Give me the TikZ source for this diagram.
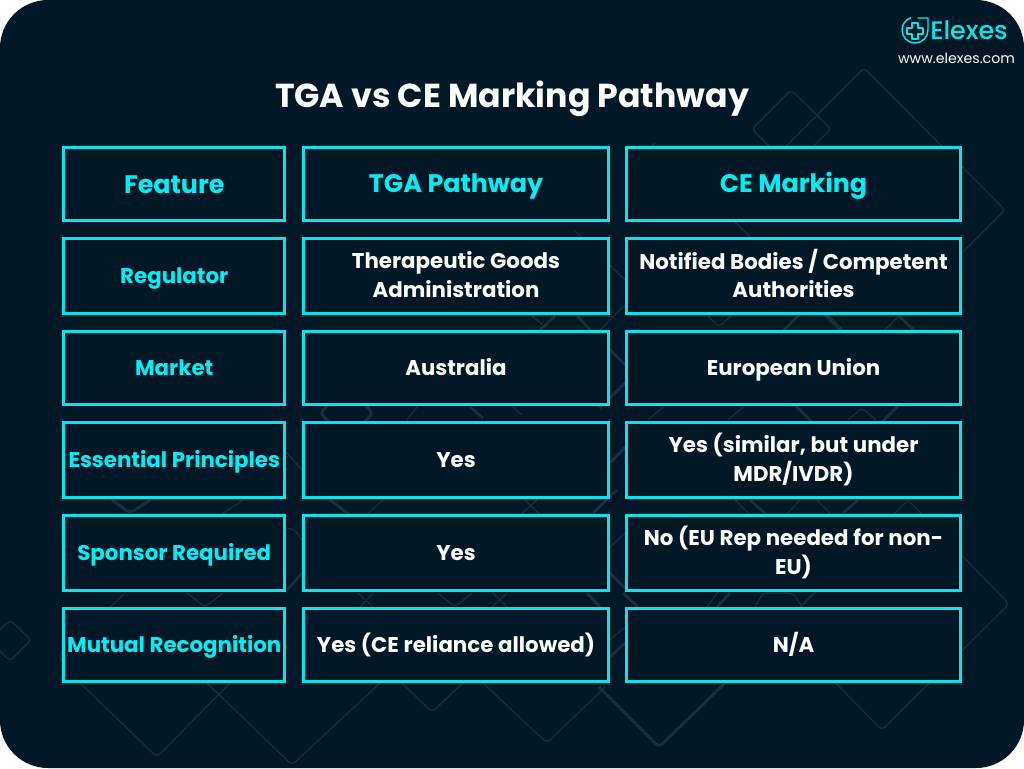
\documentclass[tikz,border=0pt]{standalone}
\usepackage{fontspec}
\setmainfont{Poppins}
\newfontfamily\logofont{Poppins Medium}
\newcommand{\Lh}{\vphantom{(Ag)}\spaceskip=0.22em\relax}
\newcommand{\Dn}[1]{\raisebox{-0.75pt}{#1}}
\definecolor{bgdark}{HTML}{021826}
\definecolor{cyanline}{HTML}{08E4EA}
\definecolor{cyantext}{HTML}{00EEF4}
\definecolor{faint}{HTML}{1A303E}
\tikzset{
  cell/.style={draw=cyanline,line width=2.25pt,fill=bgdark,inner sep=0pt,outer sep=0pt,align=center,text width=#1-4pt},
  headcell/.style={cell=#1,text=cyantext,font=\bfseries\fontsize{19}{24}\selectfont},
  keycell/.style={cell=#1,text=cyantext,font=\bfseries\fontsize{16}{21.7}\selectfont},
  valcell/.style={cell=#1,text=white,font=\bfseries\fontsize{16}{21.7}\selectfont},
  thinbg/.style={draw=faint,line width=0.9pt,line join=round},
  thickbg/.style={draw=faint,line width=2pt,line join=round},
  logoline/.style={draw=cyanline,line width=1.1pt,line cap=round,line join=round}
}
\begin{document}
\begin{tikzpicture}[x=0.75pt,y=-0.75pt]
\useasboundingbox (0,0) rectangle (1024,768);
\fill[white] (0,0) rectangle (1024,768);
\fill[bgdark,rounded corners=36pt] (0,0) rectangle (1024,768);
% background ornament
\begin{scope}[thinbg,rounded corners=3pt]
\draw (864,68) -- (1005,210) -- (864,351) -- (723,210) -- cycle;
\draw (791,90) -- (831,129) -- (791,168) -- (752,129) -- cycle;
\draw (908,500) -- (1009,604) -- (882,730) -- (780,627) -- cycle;
\draw (10,620) -- (31,640) -- (10,661) -- (-11,640) -- cycle;
\draw (80,683) -- (157,757) -- (230,683);
\draw (62,650) -- (60,660) -- (80,683);
\draw (207,683) -- (292,765) -- (380,683);
\draw (402,683) -- (432,712) -- (463,683);
\draw (483,683) -- (547,743) -- (605,687);
\draw (574,230) -- (625,280);
\draw (655,143) -- (640,155);
\draw (532,316) -- (543,325);
\draw (600,330) -- (623,307);
\draw (708,316) -- (719,327) -- (731,316);
\draw (407,420) -- (417,407);
\draw (513,407) -- (522,415);
\draw (648,420) -- (663,407);
\draw (728,420) -- (743,407);
\draw (848,420) -- (862,408) -- (876,420);
\draw (522,513) -- (537,500);
\draw (525,500) -- (540,515);
\draw (735,500) -- (748,513);
\draw (788,513) -- (800,500);
\draw (817,500) -- (830,513);
\draw (358,593) -- (373,607);
\draw (360,607) -- (373,593);
\draw (438,593) -- (455,607) -- (472,593);
\draw (492,607) -- (507,593);
\draw (493,593) -- (507,607);
\draw (707,607) -- (718,592);
\draw (110,607) -- (125,593);
\draw (187,593) -- (205,607) -- (223,593);
\draw (287,453) -- (302,470);
\draw (287,528) -- (295,530) -- (302,540);
\draw (610,547) -- (625,533);
\draw (610,640) -- (625,627);
\draw (368,513) -- (383,500);
\draw (223,513) -- (243,500);
\draw (755,607) -- (763,593) -- (793,593) -- (802,607);
\end{scope}
\begin{scope}[thickbg,rounded corners=3pt]
\draw (812,302) -- (907,397) -- (847,457) -- (752,362) -- cycle;
\draw (899,316) -- (915,331);
\draw (320,413) -- (347,386) -- (373,413) -- (347,440) -- cycle;
\draw (540,330) -- (555,316);
\draw (577,316) -- (634,374) -- (600,408);
\draw (470,407) -- (483,418);
\draw (330,500) -- (350,515);
\draw (593,513) -- (617,490);
\draw (750,500) -- (767,515);
\draw (843,513) -- (858,500);
\draw (112,500) -- (130,513) -- (150,500);
\draw (587,593) -- (600,607);
\draw (623,593) -- (638,607);
\draw (717,607) -- (730,593);
\draw (287,590) -- (302,573);
\draw (610,463) -- (625,447);
\draw (610,573) -- (625,588);
\draw (610,657) -- (625,643);
\draw (599,687) -- (659,747) -- (725,683);
\end{scope}
% title
\node[text=white,font=\bfseries\fontsize{24.9}{30}\selectfont,inner sep=0pt] (title) at (512,96.5) {\vphantom{(Ag)}TGA vs CE Marking Pathway};
% logo
\node[text=cyanline,font=\logofont\fontsize{19}{22}\selectfont,anchor=west,inner sep=0pt] (logotext) at (930,30) {Elexes};
\node[text=white,font=\fontsize{10.6}{13}\selectfont,inner sep=0pt] (url) at (956.5,58) {www.elexes.com};
\draw[logoline] (918,18) -- (928,18) -- (928,30) arc[start angle=0,end angle=250,radius=13];
\draw[logoline] (912,23) -- (918,23) -- (918,28) -- (923,28) -- (923,34) -- (918,34) -- (918,39) -- (912,39) -- (912,34) -- (907,34) -- (907,28) -- (912,28) -- cycle;
% table
\node[headcell=166.1pt,minimum width=166.1pt,minimum height=54.4pt] (h1) at (174.25,184.25) {\Lh\Dn{Feature}};
\node[headcell=228.75pt,minimum width=228.75pt,minimum height=54.4pt] (h2) at (456,184.25) {\Lh\Dn{TGA Pathway}};
\node[headcell=250.5pt,minimum width=250.5pt,minimum height=54.4pt] (h3) at (793.5,184.25) {\Lh\Dn{CE Marking}};
\node[keycell=166.1pt,minimum width=166.1pt,minimum height=56.25pt] (a1) at (174.25,276.3) {\Lh Regulator};
\node[valcell=228.75pt,minimum width=228.75pt,minimum height=56.25pt] (a2) at (456,276.3) {\Lh Therapeutic Goods\\\Lh Administration};
\node[valcell=250.5pt,minimum width=250.5pt,minimum height=56.25pt] (a3) at (793.5,276.3) {\Lh Notified Bodies / Competent\\\Lh Authorities};
\node[keycell=166.1pt,minimum width=166.1pt,minimum height=54.75pt] (b1) at (174.25,368) {\Lh\Dn{Market}};
\node[valcell=228.75pt,minimum width=228.75pt,minimum height=54.75pt] (b2) at (456,368) {\Lh\Dn{Australia}};
\node[valcell=250.5pt,minimum width=250.5pt,minimum height=54.75pt] (b3) at (793.5,368) {\Lh\Dn{European Union}};
\node[keycell=166.1pt,minimum width=166.1pt,minimum height=56pt] (c1) at (174.25,460.15) {\Lh\Dn{Essential Principles}};
\node[valcell=228.75pt,minimum width=228.75pt,minimum height=56pt] (c2) at (456,460.15) {\Lh\Dn{Yes}};
\node[valcell=250.5pt,minimum width=250.5pt,minimum height=56pt] (c3) at (793.5,460.15) {\Lh Yes (similar, but under\\\Lh MDR/IVDR)};
\node[keycell=166.1pt,minimum width=166.1pt,minimum height=56pt] (d1) at (174.25,553.15) {\Lh\Dn{Sponsor Required}};
\node[valcell=228.75pt,minimum width=228.75pt,minimum height=56pt] (d2) at (456,553.15) {\Lh\Dn{Yes}};
\node[valcell=250.5pt,minimum width=250.5pt,minimum height=56pt] (d3) at (793.5,553.15) {\Lh No (EU Rep needed for non-\\\Lh EU)};
\node[keycell=166.1pt,minimum width=166.1pt,minimum height=54.75pt] (e1) at (174.25,645.3) {\Lh Mutual Recognition};
\node[valcell=228.75pt,minimum width=228.75pt,minimum height=54.75pt] (e2) at (456,645.3) {\Lh Yes (CE reliance allowed)};
\node[valcell=250.5pt,minimum width=250.5pt,minimum height=54.75pt] (e3) at (793.5,645.3) {\Lh N/A};
\end{tikzpicture}
\end{document}
